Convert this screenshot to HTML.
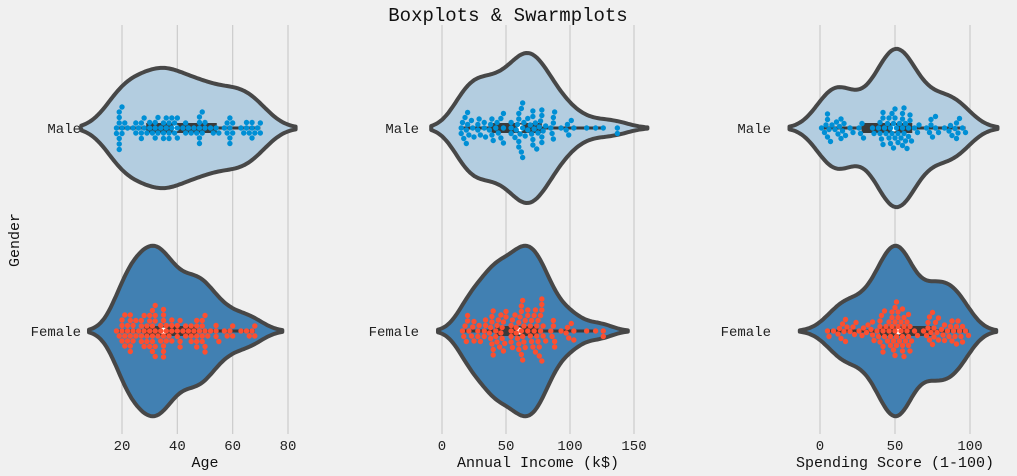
<!DOCTYPE html>
<html><head><meta charset="utf-8"><style>
html,body{margin:0;padding:0;background:#f0f0f0;}
svg{display:block;font-family:"Liberation Mono","Noto Sans CJK SC",monospace;}
</style></head><body>
<svg id="c" width="1017" height="476" viewBox="0 0 1017 476">
<rect width="1017" height="476" fill="#f0f0f0"/>
<text x="508" y="21" font-size="19" text-anchor="middle" fill="#111">Boxplots &amp; Swarmplots</text>
<text transform="translate(19,240) rotate(-90)" font-size="15" text-anchor="middle" fill="#111">Gender</text>
</svg>
<script>
const categories = ["Male","Female"];
const ageMale=[18,18,19,19,19,19,19,20,20,20,21,22,24,25,25,26,27,27,28,28,29,30,30,31,32,32,32,33,33,34,35,35,36,36,37,37,38,38,39,39,40,40,42,43,43,44,46,47,48,48,48,48,49,49,50,50,52,53,54,57,58,59,59,59,60,60,63,64,65,65,66,67,67,68,69,70,19,27,35,37,40,45,48,55,58,59,67,70];
const ageFemale=[18,19,20,20,20,21,21,21,22,22,22,23,23,23,23,24,24,25,25,26,27,27,27,28,28,29,29,29,30,30,30,31,31,31,31,32,32,32,32,32,33,34,34,35,35,35,35,35,35,36,36,37,38,38,38,40,40,40,41,41,42,43,43,44,45,45,46,47,47,47,47,48,49,49,49,50,50,50,51,52,54,54,55,57,58,59,60,63,65,66,67,68,68,31,32,34,23,27,30,35,36,38,41,45,47,49,50,54,60,20,24,28];
const incomeMale=[15,15,16,17,18,19,19,20,20,21,23,24,25,28,28,29,30,33,33,34,37,38,39,39,40,42,43,44,46,46,48,48,48,54,54,57,58,59,60,60,60,61,62,62,63,63,64,65,67,69,70,71,71,71,72,73,74,75,77,78,78,78,78,79,81,85,86,87,87,87,88,93,97,98,99,101,103,113,120,126,137,137,54,60,63,67,71,76];
const incomeFemale=[16,17,18,19,20,20,21,23,24,25,25,28,28,29,30,33,33,34,34,37,38,38,39,39,39,40,40,42,42,43,43,44,46,46,47,47,48,48,49,50,50,54,54,54,54,55,57,58,59,60,60,61,62,62,62,63,63,63,64,65,65,67,67,67,69,69,70,71,72,73,73,74,75,75,76,76,77,77,78,78,78,78,79,79,81,85,86,87,87,88,88,93,97,98,99,101,103,103,113,120,126,126,60,62,64,70,72,74,40,45,55,58];
const spendMale=[1,3,4,5,5,6,7,8,10,11,13,14,14,15,16,17,20,22,26,27,28,29,35,36,39,40,41,42,42,43,44,45,46,46,47,48,48,49,49,50,50,51,52,52,53,54,55,55,55,56,56,57,58,59,59,60,60,61,63,65,66,73,74,75,77,77,79,83,86,87,88,90,91,92,93,95,97,5,12,40,42,47,50,55,57,71,74,91];
const spendFemale=[5,6,9,12,13,14,15,16,17,17,18,20,22,23,24,26,28,29,31,32,34,35,35,36,39,40,40,41,42,42,43,43,45,46,47,47,48,48,49,49,50,50,50,51,51,52,52,53,54,55,55,55,56,56,57,58,58,59,59,60,60,61,63,65,69,71,72,73,73,74,75,75,76,77,78,79,79,81,82,83,85,86,87,88,89,90,91,92,93,94,95,97,99,40,42,46,48,50,52,54,56,59,38,44,51,55,72,76,83,88,91,95];
const ticks1=[20,40,60,80], ticks2=[0,50,100,150], ticks3=[0,50,100];
const xlabels=["Age","Annual Income (k$)","Spending Score (1-100)"];

const NS="http://www.w3.org/2000/svg";
const svg=document.getElementById('c');
function mk(t,a,p){const e=document.createElementNS(NS,t);for(const k in a)e.setAttribute(k,a[k]);(p||svg).appendChild(e);return e;}
const rowY=[128,331], band=203;
const panels=[
 {v0:20,p0:122,v1:80,p1:288,ticks:ticks1,data:[ageMale,ageFemale],lx:81,xl:xlabels[0]},
 {v0:0,p0:442,v1:150,p1:634,ticks:ticks2,data:[incomeMale,incomeFemale],lx:419,xl:xlabels[1]},
 {v0:0,p0:820,v1:100,p1:970,ticks:ticks3,data:[spendMale,spendFemale],lx:771,xl:xlabels[2]}
];
const fills=["#b3cde0","#4180b2"], dots=["#008fd5","#fc4f30"];
function stats(a){const s=[...a].sort((x,y)=>x-y);const q=p=>{const i=(s.length-1)*p,l=Math.floor(i);return s[l]+(s[Math.min(l+1,s.length-1)]-s[l])*(i-l);};return {s,q1:q(.25),med:q(.5),q3:q(.75)};}
function kde(a){const n=a.length,m=a.reduce((x,y)=>x+y,0)/n;const sd=Math.sqrt(a.reduce((x,y)=>x+(y-m)*(y-m),0)/(n-1));const bw=sd*Math.pow(n,-0.2);
 const lo=Math.min(...a)-2*bw,hi=Math.max(...a)+2*bw;const pts=[];for(let i=0;i<=100;i++){const x=lo+(hi-lo)*i/100;let d=0;for(const v of a){const z=(x-v)/bw;d+=Math.exp(-.5*z*z);}pts.push([x,d/(n*bw*Math.sqrt(2*Math.PI))]);}return pts;}
panels.forEach((P,pi)=>{
 const X=v=>P.p0+(v-P.v0)*(P.p1-P.p0)/(P.v1-P.v0);
 const g=mk('g',{});
 
 
 P.ticks.forEach(t=>{
  const l=mk('line',{x1:X(t),x2:X(t),y1:25,y2:434,stroke:'#cbcbcb','stroke-width':1.2},g);
  
  
  const tx=mk('text',{x:X(t),y:450,'font-size':14,'text-anchor':'middle',fill:'#222'},g);tx.textContent=t;
  
  
 });
 const xl=mk('text',{x:(X(P.ticks[0])+X(P.ticks[P.ticks.length-1]))/2,y:467,'font-size':15,'text-anchor':'middle',fill:'#111'},g);xl.textContent=P.xl;
 
 
 const ks=P.data.map(kde);const gmax=Math.max(...ks.map(k=>Math.max(...k.map(p=>p[1]))));
 P.data.forEach((arr,ci)=>{
  const cy=rowY[ci];
  const yl=mk('text',{x:P.lx,y:cy+5,'font-size':14,'text-anchor':'end',fill:'#222'},g);yl.textContent=categories[ci];
  
  
  const k=ks[ci];const hw=0.42*band;
  let d='M'+k.map(p=>X(p[0]).toFixed(1)+','+(cy-p[1]/gmax*hw).toFixed(1)).join('L');
  d+='L'+k.slice().reverse().map(p=>X(p[0]).toFixed(1)+','+(cy+p[1]/gmax*hw).toFixed(1)).join('L')+'Z';
  const vp=mk('path',{d,fill:fills[ci],stroke:'#474747','stroke-width':4,'stroke-linejoin':'round'},g);
  
  
  const st=stats(arr);const iqr=st.q3-st.q1;
  const wlo=st.s.find(v=>v>=st.q1-1.5*iqr),whi=[...st.s].reverse().find(v=>v<=st.q3+1.5*iqr);
  const w=mk('line',{x1:X(wlo),x2:X(whi),y1:cy,y2:cy,stroke:'#3a3a3a','stroke-width':3},g);
  
  
  const b=mk('rect',{x:X(st.q1),y:cy-5,width:X(st.q3)-X(st.q1),height:10,fill:'#3a3a3a'},g);
  
  
  const md=mk('circle',{cx:X(st.med),cy:cy,r:3.5,fill:'#fff'},g);
  
  
  const r=2.7,placed=[];
  st.s.forEach(v=>{const x=X(v);let off=0;
   for(let t=0;t<300;t++){const o=(t%2?1:-1)*Math.ceil(t/2)*0.5;if(!placed.some(p=>(p[0]-x)**2+(p[1]-o)**2<(2*r)**2-0.01)){off=o;break;}}
   placed.push([x,off]);
   const c=mk('circle',{cx:x,cy:cy+off,r:r,fill:dots[ci]},g);
   
   
  });
 });
});
</script>
</body></html>
